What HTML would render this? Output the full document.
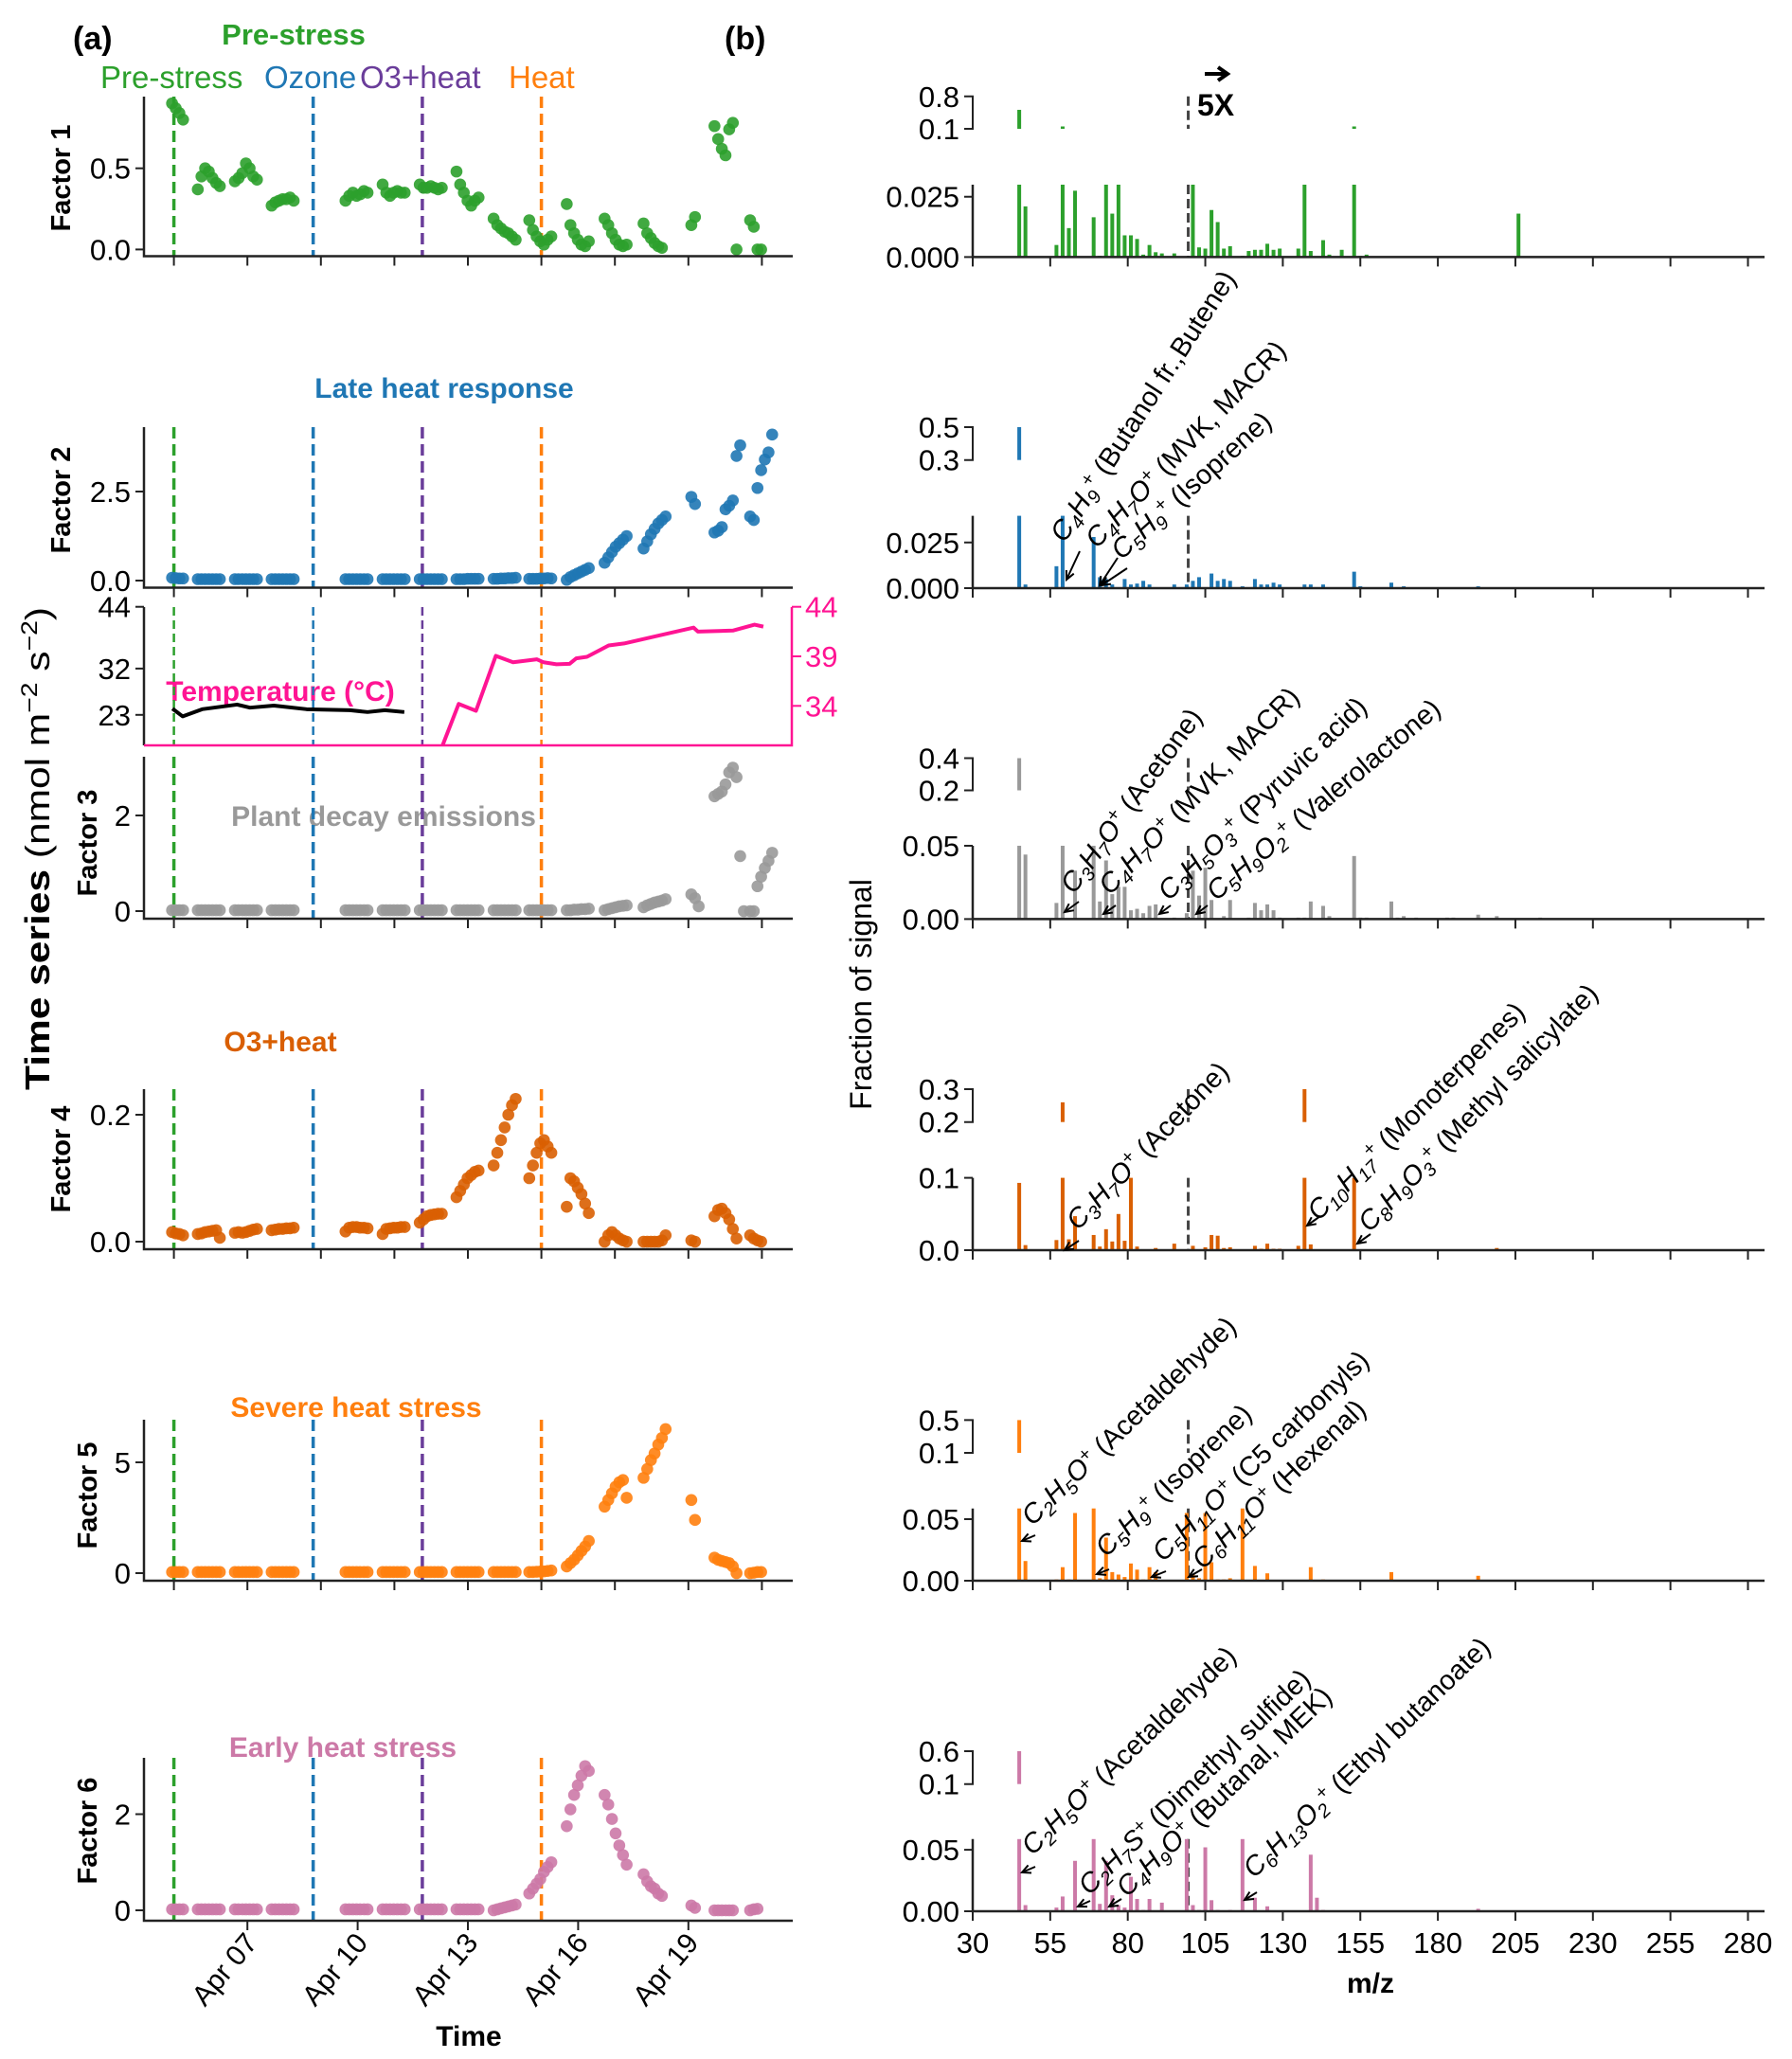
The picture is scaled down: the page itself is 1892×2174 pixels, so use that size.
<!DOCTYPE html>
<html><head><meta charset="utf-8"><title>PMF factors</title>
<style>
html,body{margin:0;padding:0;background:#fff}
svg{display:block}
text{font-family:"Liberation Sans",Arial,sans-serif}
</style></head>
<body>
<svg id="fig" width="1892" height="2174" viewBox="0 0 1892 2174">
<rect x="0" y="0" width="1892" height="2174" fill="#fff"/>
<text x="77" y="52" font-size="34" font-weight="bold">(a)</text>
<text x="765" y="52" font-size="34" font-weight="bold">(b)</text>
<text x="310" y="47" font-size="31" font-weight="bold" fill="#2ca02c" text-anchor="middle">Pre-stress</text>
<text x="106" y="93" font-size="33" fill="#2ca02c">Pre-stress</text>
<text x="279" y="93" font-size="33" fill="#1f77b4">Ozone</text>
<text x="380" y="93" font-size="33" fill="#6a3d9a">O3+heat</text>
<text x="537" y="93" font-size="33" fill="#ff7f0e">Heat</text>
<text x="469" y="420" font-size="30" font-weight="bold" fill="#1f77b4" text-anchor="middle">Late heat response</text>
<text x="296" y="740" font-size="30" font-weight="bold" fill="#ff1493" text-anchor="middle">Temperature (°C)</text>
<text x="405" y="872" font-size="30" font-weight="bold" fill="#999" text-anchor="middle">Plant decay emissions</text>
<text x="296" y="1110" font-size="30" font-weight="bold" fill="#d95f02" text-anchor="middle">O3+heat</text>
<text x="376" y="1496" font-size="30" font-weight="bold" fill="#ff7f0e" text-anchor="middle">Severe heat stress</text>
<text x="362" y="1855" font-size="30" font-weight="bold" fill="#cc79a7" text-anchor="middle">Early heat stress</text>
<text transform="translate(74,188) rotate(-90)" font-size="29" font-weight="bold" text-anchor="middle">Factor 1</text>
<text transform="translate(74,528) rotate(-90)" font-size="29" font-weight="bold" text-anchor="middle">Factor 2</text>
<text transform="translate(102,890) rotate(-90)" font-size="29" font-weight="bold" text-anchor="middle">Factor 3</text>
<text transform="translate(74,1224) rotate(-90)" font-size="29" font-weight="bold" text-anchor="middle">Factor 4</text>
<text transform="translate(102,1579) rotate(-90)" font-size="29" font-weight="bold" text-anchor="middle">Factor 5</text>
<text transform="translate(102,1933) rotate(-90)" font-size="29" font-weight="bold" text-anchor="middle">Factor 6</text>
<text transform="translate(52,896) rotate(-90)" font-size="36" text-anchor="middle" textLength="510" lengthAdjust="spacingAndGlyphs"><tspan font-weight="bold">Time series</tspan> (nmol m<tspan baseline-shift="super" font-size="24">−2</tspan> s<tspan baseline-shift="super" font-size="24">−2</tspan>)</text>
<text x="495" y="2160" font-size="30" font-weight="bold" text-anchor="middle">Time</text>
<text transform="translate(920,1050) rotate(-90)" font-size="32" text-anchor="middle">Fraction of signal</text>
<text x="1447" y="2104" font-size="30" font-weight="bold" text-anchor="middle">m/z</text>
<text x="1264" y="122" font-size="32" font-weight="bold">5X</text>
<path d="M1272,78 H1294 M1286,71 L1296,78 L1286,85" fill="none" stroke="#000" stroke-width="4"/>
<g id="g-left"></g>
<g id="g-right"></g>
</svg>
<script>
// ---------- time series data (day of April) ----------
const segStart=[4.95,5.65,6.66,7.66,9.67,10.68,11.69,12.69,13.7,14.67,15.69,16.72,17.78,19.08,19.71,20.68];
const f1Vals=[[0.9,0.87,0.84,0.8],[0.37,0.45,0.5,0.48,0.44,0.41,0.39],[0.42,0.44,0.47,0.53,0.5,0.45,0.43],[0.27,0.29,0.3,0.31,0.31,0.32,0.3],[0.3,0.33,0.35,0.33,0.34,0.36,0.35],[0.4,0.35,0.33,0.35,0.36,0.35,0.35],[0.4,0.38,0.38,0.39,0.38,0.37,0.38],[0.48,0.4,0.35,0.3,0.27,0.3,0.32],[0.19,0.15,0.13,0.11,0.1,0.08,0.06],[0.18,0.12,0.08,0.05,0.03,0.06,0.08],[0.28,0.15,0.1,0.06,0.03,0.02,0.05],[0.19,0.15,0.1,0.06,0.03,0.02,0.03],[0.16,0.1,0.07,0.04,0.02,0.01],[0.15,0.2],[0.76,0.68,0.62,0.58,0.74,0.78,0.0],[0.18,0.14,0.0,0.0]];
const f2Vals=[[0.08,0.07,0.06,0.06],[0.04,0.04,0.04,0.04,0.04,0.04,0.04],[0.04,0.04,0.04,0.04,0.04,0.04,0.04],[0.04,0.04,0.04,0.04,0.04,0.04,0.04],[0.04,0.04,0.04,0.04,0.04,0.04,0.04],[0.04,0.04,0.04,0.04,0.04,0.04,0.04],[0.04,0.04,0.04,0.04,0.04,0.04,0.04],[0.04,0.04,0.04,0.05,0.05,0.05,0.05],[0.05,0.05,0.06,0.06,0.07,0.07,0.08],[0.05,0.05,0.05,0.06,0.06,0.07,0.06],[0.02,0.1,0.15,0.2,0.25,0.3,0.35],[0.5,0.65,0.8,0.95,1.05,1.15,1.25],[0.9,1.1,1.3,1.45,1.6,1.7,1.8],[2.35,2.15],[1.35,1.4,1.5,2.0,2.1,2.25,3.5,3.8],[1.8,1.7,2.6,3.1,3.4,3.6,4.1]];
const f3Vals=[[0.02,0.02,0.02,0.02],[0.02,0.02,0.02,0.02,0.02,0.02,0.02],[0.02,0.02,0.02,0.02,0.02,0.02,0.02],[0.02,0.02,0.02,0.02,0.02,0.02,0.02],[0.02,0.02,0.02,0.02,0.02,0.02,0.02],[0.02,0.02,0.02,0.02,0.02,0.02,0.02],[0.02,0.02,0.02,0.02,0.02,0.02,0.02],[0.02,0.02,0.02,0.02,0.02,0.02,0.02],[0.02,0.02,0.02,0.02,0.02,0.02,0.02],[0.02,0.02,0.02,0.02,0.02,0.02,0.02],[0.02,0.02,0.03,0.03,0.04,0.04,0.05],[0.02,0.04,0.06,0.08,0.1,0.11,0.12],[0.08,0.12,0.15,0.18,0.2,0.22,0.25],[0.35,0.27,0.1],[2.4,2.45,2.5,2.65,2.9,3.0,2.8,1.15,0.0],[0.0,0.0,0.52,0.72,0.9,1.05,1.22]];
const f4Vals=[[0.015,0.013,0.012,0.01],[0.012,0.013,0.015,0.016,0.017,0.018,0.006],[0.014,0.015,0.014,0.015,0.017,0.019,0.02],[0.018,0.019,0.02,0.02,0.021,0.021,0.022],[0.016,0.022,0.023,0.023,0.022,0.022,0.021],[0.012,0.02,0.021,0.022,0.022,0.023,0.023],[0.03,0.035,0.04,0.042,0.043,0.044,0.044],[0.07,0.08,0.09,0.1,0.105,0.11,0.112],[0.12,0.14,0.16,0.18,0.2,0.215,0.225],[0.1,0.12,0.14,0.155,0.16,0.15,0.14],[0.055,0.1,0.095,0.085,0.075,0.06,0.045],[0.0,0.01,0.015,0.01,0.005,0.002,0.0],[0.0,0.0,0.0,0.0,0.0,0.002,0.01],[0.002,0.0],[0.04,0.05,0.052,0.045,0.035,0.02,0.005],[0.01,0.005,0.002,0.0]];
const f5Vals=[[0.05,0.05,0.05,0.05],[0.05,0.05,0.05,0.05,0.05,0.05,0.05],[0.05,0.05,0.05,0.05,0.05,0.05,0.05],[0.05,0.05,0.05,0.05,0.05,0.05,0.05],[0.05,0.05,0.05,0.05,0.05,0.05,0.05],[0.05,0.05,0.05,0.05,0.05,0.05,0.05],[0.05,0.05,0.05,0.05,0.05,0.05,0.05],[0.05,0.05,0.05,0.05,0.05,0.05,0.05],[0.05,0.05,0.05,0.05,0.05,0.05,0.05],[0.05,0.05,0.06,0.07,0.08,0.1,0.12],[0.3,0.45,0.6,0.8,1.0,1.2,1.45],[3.0,3.3,3.6,3.9,4.1,4.2,3.4],[4.3,4.7,5.1,5.4,5.8,6.1,6.5],[3.3,2.4],[0.7,0.6,0.55,0.5,0.45,0.3,0.0],[0.0,0.02,0.05,0.05]];
const f6Vals=[[0.02,0.02,0.02,0.02],[0.02,0.02,0.02,0.02,0.02,0.02,0.02],[0.02,0.02,0.02,0.02,0.02,0.02,0.02],[0.02,0.02,0.02,0.02,0.02,0.02,0.02],[0.02,0.02,0.02,0.02,0.02,0.02,0.02],[0.02,0.02,0.02,0.02,0.02,0.02,0.02],[0.02,0.02,0.02,0.02,0.02,0.02,0.02],[0.02,0.02,0.02,0.02,0.02,0.02,0.02],[0.0,0.02,0.04,0.06,0.08,0.1,0.12],[0.35,0.45,0.55,0.65,0.8,0.9,1.0],[1.75,2.1,2.4,2.6,2.8,3.0,2.9],[2.4,2.2,1.9,1.6,1.35,1.15,0.95],[0.75,0.6,0.5,0.45,0.35,0.3],[0.1,0.05],[0.0,0.0,0.0,0.0,0.0,0.0],[0.0,0.02,0.03]];
const tempDays=[4.96,5.24,5.77,6.72,7.07,7.72,8.61,9.79,10.27,10.74,11.27];
const tempVals=[24.2,22.7,24.1,25.0,24.4,24.8,24.1,23.9,23.55,23.9,23.55];
const heatDays=[12.31,12.75,13.22,13.76,14.23,14.88,15.06,15.41,15.77,15.95,16.24,16.83,17.25,18.08,19.14,19.26,20.21,20.80,21.04];
const heatVals=[30.0,34.2,33.5,39.05,38.4,38.7,38.4,38.2,38.25,38.8,38.95,40.1,40.3,41.0,41.9,41.5,41.6,42.2,42.0];
const phaseDays=[5.0,8.79,11.76,15.0];
const phaseColors=['#2ca02c','#1f77b4','#6a3d9a','#ff7f0e'];
const tickDaysTop=[5,7,9,11,13,15,17,19,21];
const tickDaysBottom=[7,10,13,16,19];
const tickLabelsBottom=['Apr 07','Apr 10','Apr 13','Apr 16','Apr 19'];

// ---------- spectra data ----------
const mzTicks=[30,55,80,105,130,155,180,205,230,255,280];
const p1Mz=[45,47,57,59,61,63,69,71,73,75,77,79,81,83,85,87,89,91,95,101,103,105,107,109,111,113,117,119,121,123,125,127,129,135,137,139,143,145,149,153,155,157,206];
const p1Val=[0.03,0.021,0.005,0.03,0.012,0.0275,0.0165,0.0005,0.03,0.018,0.03,0.009,0.009,0.0075,0.001,0.005,0.002,0.0015,0.0015,0.03,0.004,0.0035,0.0195,0.0145,0.0035,0.0045,0.0005,0.0025,0.003,0.003,0.0055,0.003,0.0035,0.0035,0.03,0.0025,0.007,0.001,0.003,0.03,0.0005,0.001,0.018];
const p1UpMz=[45,59,153], p1UpVal=[0.51,0.115,0.115];
const p2Mz=[45,47,57,59,69,71,73,75,79,81,83,85,87,95,99,101,103,107,109,111,113,117,121,123,125,127,129,137,139,143,153,155,165,169,193];
const p2Val=[0.04,0.002,0.012,0.04,0.028,0.006,0.005,0.002,0.005,0.002,0.0025,0.004,0.002,0.002,0.002,0.004,0.006,0.008,0.004,0.005,0.004,0.001,0.005,0.002,0.002,0.003,0.002,0.002,0.002,0.002,0.009,0.001,0.003,0.001,0.001];
const p2UpMz=[45], p2UpVal=[0.5];
const p3Mz=[45,47,57,59,63,69,71,73,75,77,79,81,83,85,87,89,95,99,101,103,105,107,111,113,119,121,123,125,127,129,135,137,139,143,145,153,155,157,165,167,169,173,183,185,193,199,213];
const p3Val=[0.05,0.044,0.011,0.05,0.033,0.05,0.012,0.04,0.017,0.022,0.022,0.006,0.007,0.004,0.009,0.01,0.001,0.004,0.033,0.016,0.035,0.013,0.002,0.013,0.001,0.011,0.006,0.01,0.006,0.001,0.001,0.001,0.012,0.009,0.002,0.043,0.001,0.001,0.012,0.001,0.002,0.001,0.001,0.001,0.003,0.002,0.001];
const p3UpMz=[45], p3UpVal=[0.4];
const p4Mz=[45,47,57,59,61,63,69,71,73,75,77,79,81,83,85,87,89,95,101,105,107,109,111,113,121,123,125,127,129,135,137,139,143,153,155,199];
const p4Val=[0.093,0.007,0.014,0.1,0.015,0.047,0.021,0.005,0.029,0.012,0.05,0.013,0.1,0.005,0.001,0.001,0.003,0.009,0.006,0.004,0.021,0.02,0.003,0.004,0.006,0.002,0.009,0.002,0.002,0.006,0.1,0.008,0.001,0.1,0.001,0.003];
const p4UpMz=[59,137], p4UpVal=[0.26,0.3];
const p5Mz=[45,47,57,59,61,63,69,71,73,75,77,79,81,83,85,87,89,99,101,103,105,107,109,111,113,117,121,125,139,143,165,193];
const p5Val=[0.0587,0.016,0.001,0.011,0.001,0.055,0.0587,0.002,0.035,0.007,0.005,0.003,0.014,0.009,0.001,0.011,0.007,0.055,0.005,0.002,0.055,0.015,0.001,0.001,0.002,0.0587,0.012,0.006,0.011,0.001,0.007,0.004];
const p5UpMz=[45], p5UpVal=[0.5];
const p6Mz=[45,47,57,59,63,69,71,73,75,77,79,81,83,85,87,91,99,101,103,105,107,109,113,117,121,125,139,141,143,193];
const p6Val=[0.0587,0.005,0.003,0.012,0.041,0.0587,0.006,0.041,0.013,0.005,0.003,0.028,0.01,0.001,0.01,0.007,0.0587,0.005,0.001,0.052,0.009,0.001,0.001,0.0587,0.011,0.004,0.046,0.011,0.001,0.002];
const p6UpMz=[45], p6UpVal=[0.6];

// ---------- helpers ----------
const svg=document.getElementById('fig');
const NS=svg.namespaceURI;
function mk(tag,parent,attrs){const e=document.createElementNS(NS,tag);for(const k in attrs)e.setAttribute(k,attrs[k]);parent.appendChild(e);return e;}
const xDay=d=>183.6+38.8*(d-5);
const xMz=m=>1027+3.274*(m-30);
const LX0=152,LX1=837,RX0=1027,RX1=1863;
const gL=document.getElementById('g-left');
const gR=document.getElementById('g-right');

// ---------- left panels ----------
const leftPanels=[
 {name:'factor1',top:102,spine:270.5,zero:263.4,ppu:171.4,ticks:[0,0.5],labels:['0.0','0.5'],vals:f1Vals,color:'#2ca02c'},
 {name:'factor2',top:451,spine:620.5,zero:613,ppu:37.6,ticks:[0,2.5],labels:['0.0','2.5'],vals:f2Vals,color:'#1f77b4'},
 {name:'factor3',top:799,spine:970,zero:962,ppu:50.5,ticks:[0,2],labels:['0','2'],vals:f3Vals,color:'#999999'},
 {name:'factor4',top:1150,spine:1319,zero:1311,ppu:670,ticks:[0,0.2],labels:['0.0','0.2'],vals:f4Vals,color:'#d95f02'},
 {name:'factor5',top:1499,spine:1669,zero:1661,ppu:23.4,ticks:[0,5],labels:['0','5'],vals:f5Vals,color:'#ff7f0e'},
 {name:'factor6',top:1856,spine:2028,zero:2017,ppu:50.75,ticks:[0,2],labels:['0','2'],vals:f6Vals,color:'#cc79a7'}
];
leftPanels.forEach((p,pi)=>{
  const g=mk('g',gL,{});
  
  
  phaseDays.forEach((d,i)=>{
    const l=mk('line',g,{x1:xDay(d),x2:xDay(d),y1:p.top,y2:p.spine,stroke:phaseColors[i],'stroke-width':3.5,'stroke-dasharray':'12,6'});
    
    
  });
  segStart.forEach((s,si)=>{
    p.vals[si].forEach((v,i)=>{
      const c=mk('circle',g,{cx:xDay(s+0.1*i),cy:p.zero-v*p.ppu,r:6.3,fill:p.color,'fill-opacity':0.9});
      
      
    });
  });
  const ax=mk('path',g,{d:`M${LX0},${p.top} V${p.spine} H${LX1}`,fill:'none',stroke:'#222','stroke-width':2.5});
  
  
  p.ticks.forEach((t,i)=>{
    const y=p.zero-t*p.ppu;
    mk('line',g,{x1:LX0-9,x2:LX0,y1:y,y2:y,stroke:'#222','stroke-width':2});
    const tx=mk('text',g,{x:LX0-14,y:y+11,'font-size':31,'text-anchor':'end'});
    tx.textContent=p.labels[i];
    
    
  });
  const td=(pi===5)?tickDaysBottom:tickDaysTop;
  td.forEach((d,i)=>{
    mk('line',g,{x1:xDay(d),x2:xDay(d),y1:p.spine,y2:p.spine+10,stroke:'#222','stroke-width':2});
    if(pi===5){
      const tx=mk('text',g,{x:0,y:0,'font-size':30,'text-anchor':'end',transform:`translate(${xDay(d)+12},${p.spine+24}) rotate(-50)`});
      tx.textContent=tickLabelsBottom[i];
      
      
    }
  });
});

// temperature panel
(function(){
  const top=641,bot=787;
  const yL=t=>640.7+(44-t)*5.433;
  const yR=t=>640.7+(44-t)*10.46;
  const g=mk('g',gL,{});
  
  
  phaseDays.forEach((d,i)=>{
    const l=mk('line',g,{x1:xDay(d),x2:xDay(d),y1:top,y2:bot,stroke:phaseColors[i],'stroke-width':2.5,'stroke-dasharray':'9,5'});
    
    
  });
  const cl=mk('clipPath',svg,{id:'tclip'});
  mk('rect',cl,{x:LX0,y:top,width:LX1-LX0,height:bot-top});
  const ptsA=tempDays.map((d,i)=>xDay(d)+','+yL(tempVals[i])).join(' ');
  const la=mk('polyline',g,{points:ptsA,fill:'none',stroke:'#000','stroke-width':4,'stroke-linejoin':'round'});
  
  
  const ptsB=heatDays.map((d,i)=>xDay(d)+','+yR(heatVals[i])).join(' ');
  const lb=mk('polyline',g,{points:ptsB,fill:'none',stroke:'#ff1493','stroke-width':4,'stroke-linejoin':'round','clip-path':'url(#tclip)'});
  
  
  mk('line',g,{x1:LX0,x2:LX0,y1:top,y2:bot,stroke:'#222','stroke-width':2.5});
  mk('path',g,{d:`M${LX0},${bot} H${LX1-1} V${top}`,fill:'none',stroke:'#ff1493','stroke-width':2.5});
  const lTicks=[44,32,23];
  lTicks.forEach(t=>{
    mk('line',g,{x1:LX0-9,x2:LX0,y1:yL(t),y2:yL(t),stroke:'#222','stroke-width':2});
    const tx=mk('text',g,{x:LX0-14,y:yL(t)+11,'font-size':31,'text-anchor':'end'});
    tx.textContent=t;
    
    
  });
  const rTicks=[44,39,34];
  rTicks.forEach(t=>{
    mk('line',g,{x1:LX1-1,x2:LX1+9,y1:yR(t),y2:yR(t),stroke:'#ff1493','stroke-width':2});
    const tx=mk('text',g,{x:LX1+13,y:yR(t)+11,'font-size':31,fill:'#ff1493'});
    tx.textContent=t;
    
    
  });
})();

// ---------- right panels ----------
const rightPanels=[
 {name:'factor1',upTop:101.8,upBot:136,upHi:0.8,upLo:0.1,lowTop:195,zero:271.4,lowMax:0.03,lt:[0,0.025],ll:['0.000','0.025'],ul:['0.8','0.1'],mz:p1Mz,val:p1Val,umz:p1UpMz,uval:p1UpVal,color:'#2ca02c',dashUp:true},
 {name:'factor2',upTop:451,upBot:485.7,upHi:0.5,upLo:0.3,lowTop:544.6,zero:621,lowMax:0.0396,lt:[0,0.025],ll:['0.000','0.025'],ul:['0.5','0.3'],mz:p2Mz,val:p2Val,umz:p2UpMz,uval:p2UpVal,color:'#1f77b4',dashUp:false},
 {name:'factor3',upTop:800.5,upBot:834.5,upHi:0.4,upLo:0.2,lowTop:893,zero:970.4,lowMax:0.05,lt:[0,0.05],ll:['0.00','0.05'],ul:['0.4','0.2'],mz:p3Mz,val:p3Val,umz:p3UpMz,uval:p3UpVal,color:'#999999',dashUp:true},
 {name:'factor4',upTop:1150,upBot:1184.7,upHi:0.3,upLo:0.2,lowTop:1243.6,zero:1320,lowMax:0.1,lt:[0,0.1],ll:['0.0','0.1'],ul:['0.3','0.2'],mz:p4Mz,val:p4Val,umz:p4UpMz,uval:p4UpVal,color:'#d95f02',dashUp:true},
 {name:'factor5',upTop:1499.4,upBot:1534,upHi:0.5,upLo:0.1,lowTop:1592.7,zero:1669,lowMax:0.0587,lt:[0,0.05],ll:['0.00','0.05'],ul:['0.5','0.1'],mz:p5Mz,val:p5Val,umz:p5UpMz,uval:p5UpVal,color:'#ff7f0e',dashUp:true},
 {name:'factor6',upTop:1849,upBot:1883.7,upHi:0.6,upLo:0.1,lowTop:1941.8,zero:2018,lowMax:0.0587,lt:[0,0.05],ll:['0.00','0.05'],ul:['0.6','0.1'],mz:p6Mz,val:p6Val,umz:p6UpMz,uval:p6UpVal,color:'#cc79a7',dashUp:false}
];
rightPanels.forEach((p,pi)=>{
  const g=mk('g',gR,{});
  
  
  const yLow=v=>p.zero-Math.min(v,p.lowMax)/p.lowMax*(p.zero-p.lowTop);
  const yUp=v=>p.upBot-(Math.min(v,p.upHi)-p.upLo)/(p.upHi-p.upLo)*(p.upBot-p.upTop);
  const dx=xMz(99.5);
  const dl=mk('line',g,{x1:dx,x2:dx,y1:p.lowTop,y2:p.zero,stroke:'#444','stroke-width':3,'stroke-dasharray':'10,5'});
  
  
  if(p.dashUp){mk('line',g,{x1:dx,x2:dx,y1:p.upTop,y2:p.upBot,stroke:'#444','stroke-width':3,'stroke-dasharray':'10,5'});}
  p.mz.forEach((m,i)=>{
    const y=yLow(p.val[i]);
    const b=mk('rect',g,{x:xMz(m)-2,y:y,width:4,height:Math.max(p.zero-y,0.8),fill:p.color});
    
    
  });
  p.umz.forEach((m,i)=>{
    const y=Math.min(yUp(p.uval[i]),p.upBot-2.5);
    const b=mk('rect',g,{x:xMz(m)-2,y:y,width:4,height:p.upBot-y,fill:p.color});
    
    
  });
  const ax=mk('path',g,{d:`M${RX0},${p.lowTop} V${p.zero} H${RX1}`,fill:'none',stroke:'#222','stroke-width':2.5});
  
  
  const br=mk('path',g,{d:`M${RX0-9},${p.upTop} H${RX0} V${p.upBot} H${RX0-9}`,fill:'none',stroke:'#222','stroke-width':2});
  
  
  [p.upTop,p.upBot].forEach((y,i)=>{
    const tx=mk('text',g,{x:RX0-14,y:y+11,'font-size':31,'text-anchor':'end'});
    tx.textContent=p.ul[i];
    
    
  });
  p.lt.forEach((t,i)=>{
    const y=p.zero-t/p.lowMax*(p.zero-p.lowTop);
    mk('line',g,{x1:RX0-9,x2:RX0,y1:y,y2:y,stroke:'#222','stroke-width':2});
    const tx=mk('text',g,{x:RX0-14,y:y+11,'font-size':31,'text-anchor':'end'});
    tx.textContent=p.ll[i];
    
    
  });
  mzTicks.forEach(m=>{
    mk('line',g,{x1:xMz(m),x2:xMz(m),y1:p.zero,y2:p.zero+10,stroke:'#222','stroke-width':2});
    if(pi===5){
      const tx=mk('text',g,{x:xMz(m),y:p.zero+44,'font-size':31,'text-anchor':'middle'});
      tx.textContent=m;
      
      
    }
  });
});

// ---------- annotations ----------
// [formula, name, textX, textY, angle, arrowFromX, arrowFromY, arrowToX, arrowToY]
const annotations=[
 ['C_4H_9^+','(Butanol fr.,Butene)',1124,574,57,1140,582,1126,612],
 ['C_4H_7O^+','(MVK, MACR)',1158,580,46,1180,589,1161,618],
 ['C_5H_9^+','(Isoprene)',1184,592,42,1190,600,1163,618],
 ['C_3H_7O^+','(Acetone)',1134,945,54,1139,952,1124,963],
 ['C_4H_7O^+','(MVK, MACR)',1172,946,46,1178,956,1165,965],
 ['C_3H_5O_3^+','(Pyruvic acid)',1234,952,44,1236,956,1224,965],
 ['C_5H_9O_2^+','(Valerolactone)',1284,952,40,1275,956,1263,965],
 ['C_3H_7O^+','(Acetone)',1138,1300,46,1139,1310,1124,1320],
 ['C_{10}H_{17}^+','(Monoterpenes)',1392,1290,45,1394,1284,1380,1294],
 ['C_8H_9O_3^+','(Methyl salicylate)',1446,1302,46,1447,1303,1433,1313],
 ['C_2H_5O^+','(Acetaldehyde)',1090,1612,44,1093,1621,1079,1627],
 ['C_5H_9^+','(Isoprene)',1168,1645,44,1171,1657,1158,1662],
 ['C_5H_{11}O^+','(C5 carbonyls)',1228,1650,44,1231,1659,1216,1665],
 ['C_6H_{11}O^+','(Hexenal)',1270,1658,44,1269,1657,1255,1665],
 ['C_2H_5O^+','(Acetaldehyde)',1090,1960,44,1093,1971,1079,1977],
 ['C_2H_7S^+','(Dimethyl sulfide)',1150,2002,44,1151,2007,1138,2013],
 ['C_4H_9O^+','(Butanal, MEK)',1190,2004,44,1184,2005,1171,2013],
 ['C_6H_{13}O_2^+','(Ethyl butanoate)',1324,1984,44,1327,1998,1314,2006]
];
function addFormula(t,f){
  let i=0;
  while(i<f.length){
    let c=f[i],mode='';
    if(c==='_'||c==='^'){mode=c;i++;}
    let s;
    if(f[i]==='{'){const j=f.indexOf('}',i);s=f.slice(i+1,j);i=j+1;}else{s=mode?f[i]:'';if(mode)i++;}
    if(!mode){let j=i;while(j<f.length&&f[j]!=='_'&&f[j]!=='^')j++;s=f.slice(i,j);i=j;}
    const ts=mk('tspan',t,{});
    if(mode){ts.setAttribute('font-size','20');ts.setAttribute('baseline-shift',mode==='_'?'-6':'10');}
    ts.textContent=s;
  }
}
const gA=mk('g',gR,{});


annotations.forEach(a=>{
  const ar=mk('line',gA,{x1:a[5],y1:a[6],x2:a[7],y2:a[8],stroke:'#000','stroke-width':2});
  
  
  const ang=Math.atan2(a[8]-a[6],a[7]-a[5]);
  const h1x=a[7]-10*Math.cos(ang-0.45),h1y=a[8]-10*Math.sin(ang-0.45);
  const h2x=a[7]-10*Math.cos(ang+0.45),h2y=a[8]-10*Math.sin(ang+0.45);
  mk('path',gA,{d:`M${h1x},${h1y} L${a[7]},${a[8]} L${h2x},${h2y}`,fill:'none',stroke:'#000','stroke-width':2});
  const t=mk('text',gA,{x:0,y:0,'font-size':29,transform:`translate(${a[2]},${a[3]}) rotate(${-a[4]})`});
  
  
  const tf=mk('tspan',t,{'font-style':'italic'});
  addFormula(tf,a[0]);
  const tn=mk('tspan',t,{});
  tn.textContent=' '+a[1];
});
</script>
</body></html>
